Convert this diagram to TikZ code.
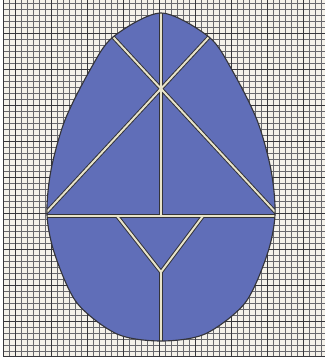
\documentclass[tikz,border=0pt]{standalone}
\usepackage{tikz}
\usetikzlibrary{calc}
\definecolor{cPaper}{RGB}{244,241,233}
\definecolor{cGridLine}{RGB}{105,105,110}
\definecolor{cGridBold}{RGB}{55,55,60}
\definecolor{cEgg}{RGB}{96,110,184}
\definecolor{cSeam}{RGB}{232,228,202}
\definecolor{cSeamEdge}{RGB}{52,52,58}
\tikzset{
  gridline/.style={draw=cGridLine, line width=0.9pt},
  gridbold/.style={draw=cGridBold, line width=1.4pt},
  eggbody/.style={fill=cEgg},
  eggedge/.style={draw=cSeamEdge, line width=1.6pt},
  seamedge/.style={draw=cSeamEdge, line width=5.6pt, line cap=round},
  seamfill/.style={draw=cSeam, line width=2.8pt, line cap=round}
}
\newcommand{\eggoutline}{plot[smooth cycle] coordinates {
  (161,13) (209,37) (232,70) (257,120) (271,170) (275,215) (267,255)
  (245,303) (205,334) (161,341) (117,334) (77,303) (55,255) (47,215)
  (51,170) (65,120) (90,70) (113,37)}}

\begin{document}
\begin{tikzpicture}[x=0.05cm, y=-0.05cm]
  \useasboundingbox (0,0) rectangle (325,362);
  % squared paper
  \fill[cPaper] (3,0) rectangle (325,356);
  \foreach \gx in {3,9,...,321}
    \draw[gridline] (\gx,0) -- (\gx,356);
  \foreach \gy in {3,9,...,351}
    \draw[gridline] (3,\gy) -- (325,\gy);
  \foreach \gx in {15,51,...,303}
    \draw[gridbold] (\gx,0) -- (\gx,356);
  \foreach \gy in {33,69,...,321}
    \draw[gridbold] (3,\gy) -- (325,\gy);
  \draw[gridbold] (3,0) -- (3,356) -- (325,356);

  % egg and its cuts
  \path[eggbody] \eggoutline;
  \coordinate (apex) at (161,5);
  \coordinate (hub) at (161,89);
  \coordinate (ulft) at (101,24);
  \coordinate (urgt) at (221,24);
  \coordinate (llft) at (43,216);
  \coordinate (lrgt) at (279,216);
  \coordinate (waistl) at (38,216);
  \coordinate (waistr) at (284,216);
  \coordinate (midtop) at (161,216);
  \coordinate (tril) at (117,216);
  \coordinate (trir) at (203,216);
  \coordinate (tribot) at (161,272);
  \coordinate (base) at (161,350);
  \begin{scope}
    \clip \eggoutline;
    \foreach \from/\to in {apex/midtop, ulft/lrgt, urgt/llft, waistl/waistr,
                           tril/tribot, trir/tribot, tribot/base}
      \draw[seamedge] (\from) -- (\to);
    \foreach \from/\to in {apex/midtop, ulft/lrgt, urgt/llft, waistl/waistr,
                           tril/tribot, trir/tribot, tribot/base}
      \draw[seamfill] (\from) -- (\to);
  \end{scope}
  \draw[eggedge] \eggoutline;
\end{tikzpicture}
\end{document}
